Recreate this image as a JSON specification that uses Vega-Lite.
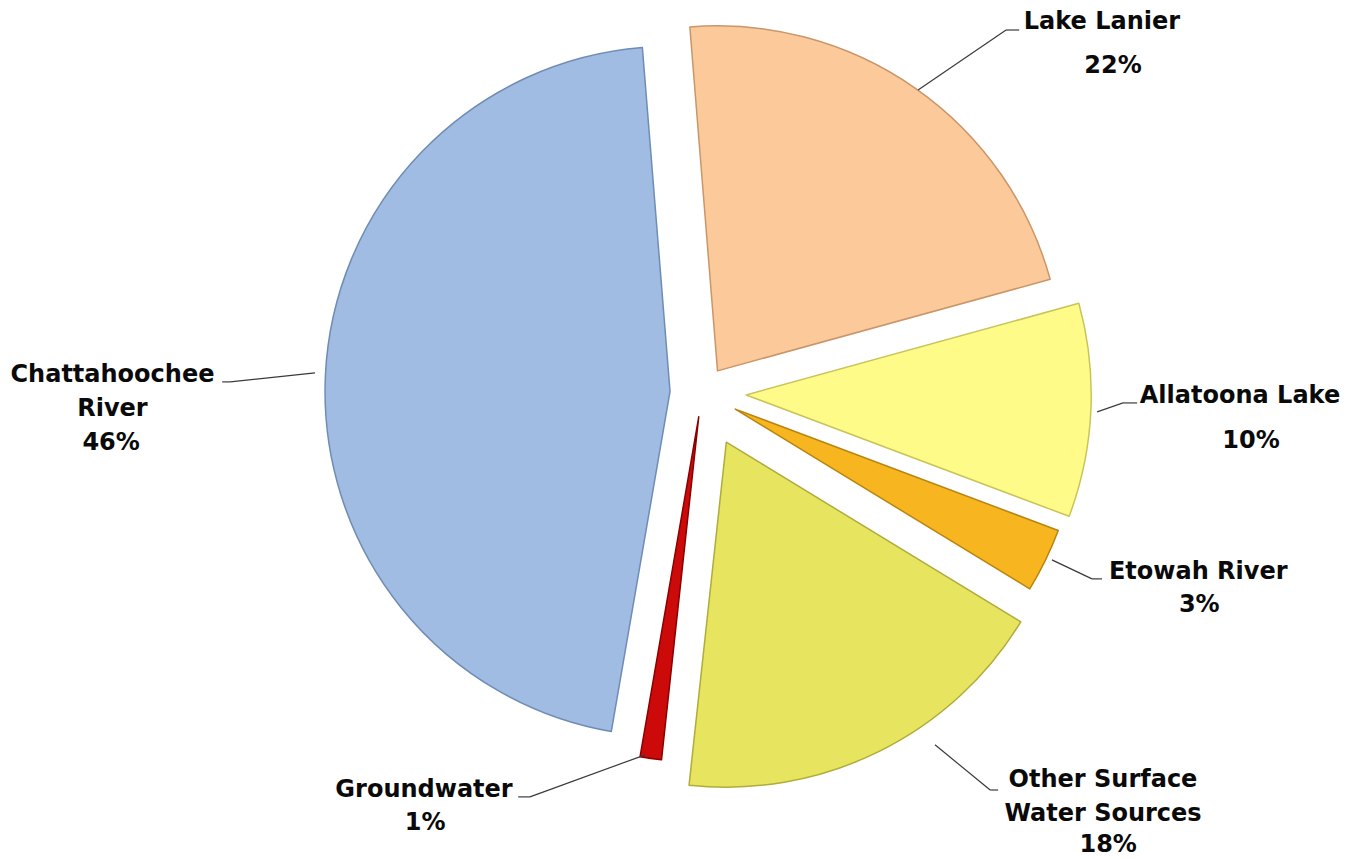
{
  "$schema": "https://vega.github.io/schema/vega-lite/v6.json",
  "width": 1349,
  "height": 859,
  "padding": 0,
  "autosize": {"type": "none"},
  "background": "white",
  "config": {"view": {"stroke": null}},
  "data": {
    "values": [
      {"source": "Lake Lanier", "value": 22, "order": 1},
      {"source": "Allatoona Lake", "value": 10, "order": 2},
      {"source": "Etowah River", "value": 3, "order": 3},
      {"source": "Other Surface Water Sources", "value": 18, "order": 4},
      {"source": "Groundwater", "value": 1, "order": 5},
      {"source": "Chattahoochee River", "value": 46, "order": 6}
    ]
  },
  "transform": [
    {"window": [{"op": "sum", "field": "value", "as": "cum"}], "sort": [{"field": "order", "order": "ascending"}], "frame": [null, 0]},
    {"calculate": "-0.0803 + 2*PI*(datum.cum - datum.value)/100", "as": "a0"},
    {"calculate": "-0.0803 + 2*PI*datum.cum/100", "as": "a1"},
    {"calculate": "(datum.a0 + datum.a1)/2", "as": "am"},
    {"calculate": "[7.8, 12.8, 10.7, 15.9, 7.0, 9.3][datum.order-1]", "as": "d"},
    {"calculate": "datum.d*sin(datum.am)", "as": "cx"},
    {"calculate": "datum.d*cos(datum.am)", "as": "cy"},
    {"calculate": "[62.6, 114.5, 101.4, 67.5, -16.5, -112.2][datum.order-1]", "as": "lsx"},
    {"calculate": "[87.8, -5.5, -48.4, -102.0, -104.9, 5.8][datum.order-1]", "as": "lsy"},
    {"calculate": "[88.1, 122.0, 113.0, 83.5, -49.9, -136.8][datum.order-1]", "as": "lex"},
    {"calculate": "[105.2, -2.9, -53.9, -115.1, -117.1, 3.2][datum.order-1]", "as": "ley"},
    {"calculate": "[91.9, 126.1, 115.9, 85.8, -53.3, -139.1][datum.order-1]", "as": "lsx2"},
    {"calculate": "[115.9, 155.9, 143.8, 116.2, -80.6, -170.9][datum.order-1]", "as": "nx"},
    {"calculate": "[105.5, -2.9, -53.9, -114.3, -117.1, 3.2][datum.order-1]", "as": "ny"},
    {"calculate": "[119.1, 159.1, 144.1, 117.7, -80.3, -171.3][datum.order-1]", "as": "px"},
    {"calculate": "[92.8, -15.9, -63.5, -133.2, -126.7, -16.5][datum.order-1]", "as": "py"},
    {"calculate": "datum.source === 'Chattahoochee River' ? 'Chattahoochee\\nRiver' : datum.source === 'Other Surface Water Sources' ? 'Other Surface\\nWater Sources' : datum.source", "as": "lbl"},
    {"calculate": "datum.value + '%'", "as": "pct"}
  ],
  "layer": [
    {
      "mark": {"type": "arc", "outerRadius": 345, "strokeWidth": 1.5, "strokeJoin": "round"},
      "encoding": {
        "x": {"field": "cx", "type": "quantitative", "stack": null, "scale": {"domain": [-203.5, 187.5], "zero": false, "nice": false}, "axis": null},
        "y": {"field": "cy", "type": "quantitative", "stack": null, "scale": {"domain": [-135.1, 113.9], "zero": false, "nice": false}, "axis": null},
        "theta": {"field": "a0", "type": "quantitative", "scale": null, "stack": null},
        "theta2": {"field": "a1"},
        "fill": {"field": "source", "type": "nominal", "legend": null, "scale": {"domain": ["Lake Lanier", "Allatoona Lake", "Etowah River", "Other Surface Water Sources", "Groundwater", "Chattahoochee River"], "range": ["#FCCA9A", "#FFFB88", "#F7B61F", "#E7E460", "#CC0A0A", "#A0BCE2"]}},
        "stroke": {"field": "source", "type": "nominal", "legend": null, "scale": {"domain": ["Lake Lanier", "Allatoona Lake", "Etowah River", "Other Surface Water Sources", "Groundwater", "Chattahoochee River"], "range": ["#C9966A", "#C9C45A", "#B98510", "#B0AC3A", "#8A0000", "#6F8CB5"]}}
      }
    },
    {
      "mark": {"type": "rule", "color": "#3a3a3a", "strokeWidth": 1.2},
      "encoding": {
        "x": {"field": "lsx", "type": "quantitative", "stack": null, "scale": {"domain": [-203.5, 187.5], "zero": false, "nice": false}, "axis": null},
        "y": {"field": "lsy", "type": "quantitative", "stack": null, "scale": {"domain": [-135.1, 113.9], "zero": false, "nice": false}, "axis": null},
        "x2": {"field": "lex"},
        "y2": {"field": "ley"}
      }
    },
    {
      "mark": {"type": "rule", "color": "#3a3a3a", "strokeWidth": 1.2},
      "encoding": {
        "x": {"field": "lex", "type": "quantitative", "stack": null, "scale": {"domain": [-203.5, 187.5], "zero": false, "nice": false}, "axis": null},
        "y": {"field": "ley", "type": "quantitative", "stack": null, "scale": {"domain": [-135.1, 113.9], "zero": false, "nice": false}, "axis": null},
        "x2": {"field": "lsx2"}
      }
    },
    {
      "mark": {"type": "text", "align": "center", "baseline": "alphabetic", "font": "DejaVu Sans", "fontSize": 24, "fontWeight": "bold", "lineBreak": "\n", "lineHeight": 34, "color": "#0a0a0a"},
      "encoding": {
        "x": {"field": "nx", "type": "quantitative", "stack": null, "scale": {"domain": [-203.5, 187.5], "zero": false, "nice": false}, "axis": null},
        "y": {"field": "ny", "type": "quantitative", "stack": null, "scale": {"domain": [-135.1, 113.9], "zero": false, "nice": false}, "axis": null},
        "text": {"field": "lbl", "type": "nominal"}
      }
    },
    {
      "mark": {"type": "text", "align": "center", "baseline": "alphabetic", "font": "DejaVu Sans", "fontSize": 24, "fontWeight": "bold", "color": "#0a0a0a"},
      "encoding": {
        "x": {"field": "px", "type": "quantitative", "stack": null, "scale": {"domain": [-203.5, 187.5], "zero": false, "nice": false}, "axis": null},
        "y": {"field": "py", "type": "quantitative", "stack": null, "scale": {"domain": [-135.1, 113.9], "zero": false, "nice": false}, "axis": null},
        "text": {"field": "pct", "type": "nominal"}
      }
    }
  ]
}
